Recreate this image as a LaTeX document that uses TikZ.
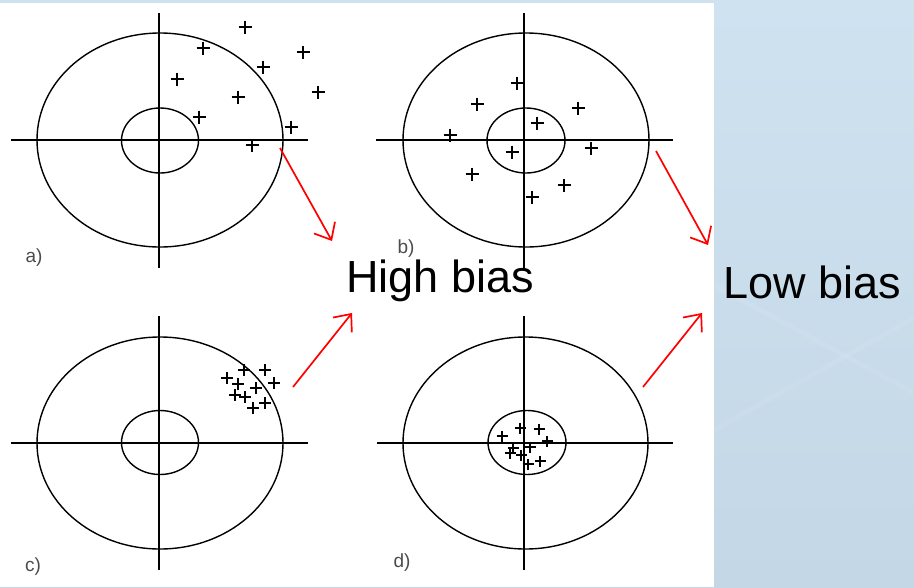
\documentclass[tikz,border=0pt]{standalone}
\usepackage{fontspec}
\setmainfont{Liberation Sans}
\usetikzlibrary{arrows.meta}
\definecolor{bgtop}{HTML}{CFE2F0}
\definecolor{bgbot}{HTML}{C3D7E6}
\definecolor{lblgrey}{HTML}{4C4C4C}
\begin{document}
\begin{tikzpicture}[x=1pt,y=-1pt,
  axis/.style={line width=1.6pt, black},
  ring/.style={line width=1.4pt, black},
  hitmark/.style={line width=1.4pt, black},
  redarrow/.style={red, line width=1.7pt, -{Straight Barb[length=14pt,width=24pt,line width=1.7pt]}},
  panellabel/.style={text=lblgrey, font=\fontsize{19}{19}\selectfont, inner sep=0},
  bigtext/.style={font=\fontsize{45}{50}\selectfont, inner sep=0, anchor=base west, text height=32pt, text depth=9pt},
  streak/.style={white, opacity=0.08, line width=5pt}]
\useasboundingbox (0,0) rectangle (914,587);
% background
\shade[top color=bgtop, bottom color=bgbot] (0,0) rectangle (914,587);
\draw[streak] (714,285) -- (914,393);
\draw[streak] (714,430) -- (914,318);
\fill[white] (0,2.5) rectangle (714,587);
% panel a
\draw[axis] (159,13) -- (159,268);
\draw[axis] (11,140) -- (308,140);
\draw[ring] (160,140) ellipse [x radius=123pt, y radius=107pt];
\draw[ring] (160,140.5) ellipse [x radius=38.5pt, y radius=32.5pt];
\foreach \x/\y in {245/27,203/48,303/52,263/67,177/79,318/92,238/97,199/117,291/127,252/145}
  \draw[hitmark] (\x-6.5,\y) -- (\x+6.5,\y) (\x,\y-6.5) -- (\x,\y+6.5);
\node[panellabel] (la) at (34,258) {a)};
% panel b
\draw[axis] (524,13) -- (524,268);
\draw[axis] (376,140) -- (673,140);
\draw[ring] (526,140) ellipse [x radius=123pt, y radius=107pt];
\draw[ring] (526,140.5) ellipse [x radius=39pt, y radius=32.5pt];
\foreach \x/\y in {517/83,477/104,578/108,537/123,450/135,591/148,512/152,472/174,564/185,532/197}
  \draw[hitmark] (\x-6.5,\y) -- (\x+6.5,\y) (\x,\y-6.5) -- (\x,\y+6.5);
\node[panellabel] (lb) at (406,249) {b)};
% panel c
\draw[axis] (159,316) -- (159,570);
\draw[axis] (11,443) -- (308,443);
\draw[ring] (160,443) ellipse [x radius=123pt, y radius=106pt];
\draw[ring] (160,442.5) ellipse [x radius=38.5pt, y radius=32pt];
\foreach \x/\y in {227/378,244/370,265/370,238/384,256/388,274/383,235/395,245/397,265/403,253/408}
  \draw[hitmark] (\x-6,\y) -- (\x+6,\y) (\x,\y-6) -- (\x,\y+6);
\node[panellabel] (lc) at (33,567) {c)};
% panel d
\draw[axis] (524,316) -- (524,570);
\draw[axis] (377,443) -- (673,443);
\draw[ring] (525.5,443) ellipse [x radius=122.5pt, y radius=106pt];
\draw[ring] (527,442.5) ellipse [x radius=39pt, y radius=32pt];
\foreach \x/\y in {502/436,520/428,539/429,547/441,513/448,530/447,510/453,521/455,528/464,540/461}
  \draw[hitmark] (\x-5.5,\y) -- (\x+5.5,\y) (\x,\y-5.5) -- (\x,\y+5.5);
\node[panellabel] (ld) at (402,563) {d)};
% texts
\node[bigtext] (high) at (346,292) {High bias};
\node[bigtext] (low) at (723,298) {Low bias};
% arrows
\coordinate (a0) at (280,148); \coordinate (a1) at (332,241);
\coordinate (b0) at (656,151); \coordinate (b1) at (708,245);
\coordinate (c0) at (293,387); \coordinate (c1) at (352,313);
\coordinate (d0) at (643,387); \coordinate (d1) at (702,313);
\draw[redarrow] (a0) -- (a1);
\draw[redarrow] (b0) -- (b1);
\draw[redarrow] (c0) -- (c1);
\draw[redarrow] (d0) -- (d1);
\end{tikzpicture}
\end{document}
